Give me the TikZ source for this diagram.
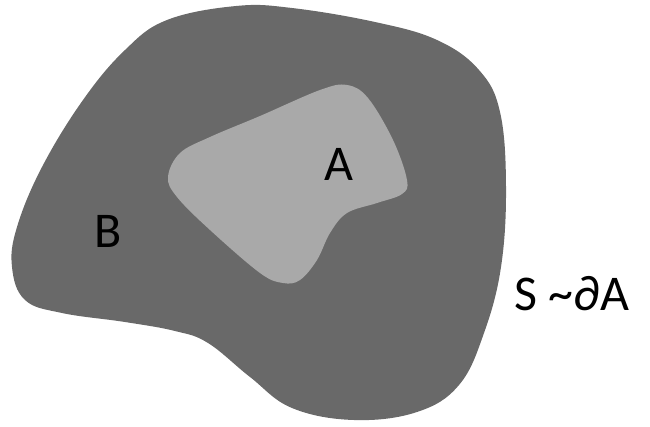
\documentclass[tikz,border=0pt]{standalone}
\usepackage{fontspec}
\setmainfont{Carlito}
\definecolor{outergray}{HTML}{696969}
\definecolor{innergray}{HTML}{A9A9A9}
\tikzset{
    regionlabel/.style={font=\fontsize{50}{50}\selectfont, inner sep=0pt, anchor=base}
}
\begin{document}
\begin{tikzpicture}[x=1pt, y=-1pt]
    \useasboundingbox (0,0) rectangle (650,426);

    % Region B (outer)
    \fill[outergray] plot[smooth cycle, tension=0.65] coordinates {
        (236,6) (292,8) (375,22) (437,40) (479,70) (500,112) (506,187)
        (501,267) (484,333) (459,385) (417,412) (354,420) (292,408)
        (250,377) (208,343) (175,331) (125,322) (62,313) (25,300)
        (12,267) (17,227) (42,167) (83,100) (125,50) (167,20)};

    % Region A (inner)
    \fill[innergray] plot[smooth cycle, tension=0.6] coordinates {
        (347,85) (368,98) (393,140) (407,180) (402,194) (377,203)
        (347,213) (330,233) (317,260) (300,280) (283,283) (260,273)
        (210,230) (177,197) (168,177) (180,153) (210,137) (260,116)
        (320,90)};

    % Labels
    \node[regionlabel] (a) at (339,180) {A};
    \node[regionlabel] (b) at (108,247) {B};
    \node[regionlabel, anchor=base west] (s) at (514,310) {S \textasciitilde{}∂A};
\end{tikzpicture}
\end{document}
